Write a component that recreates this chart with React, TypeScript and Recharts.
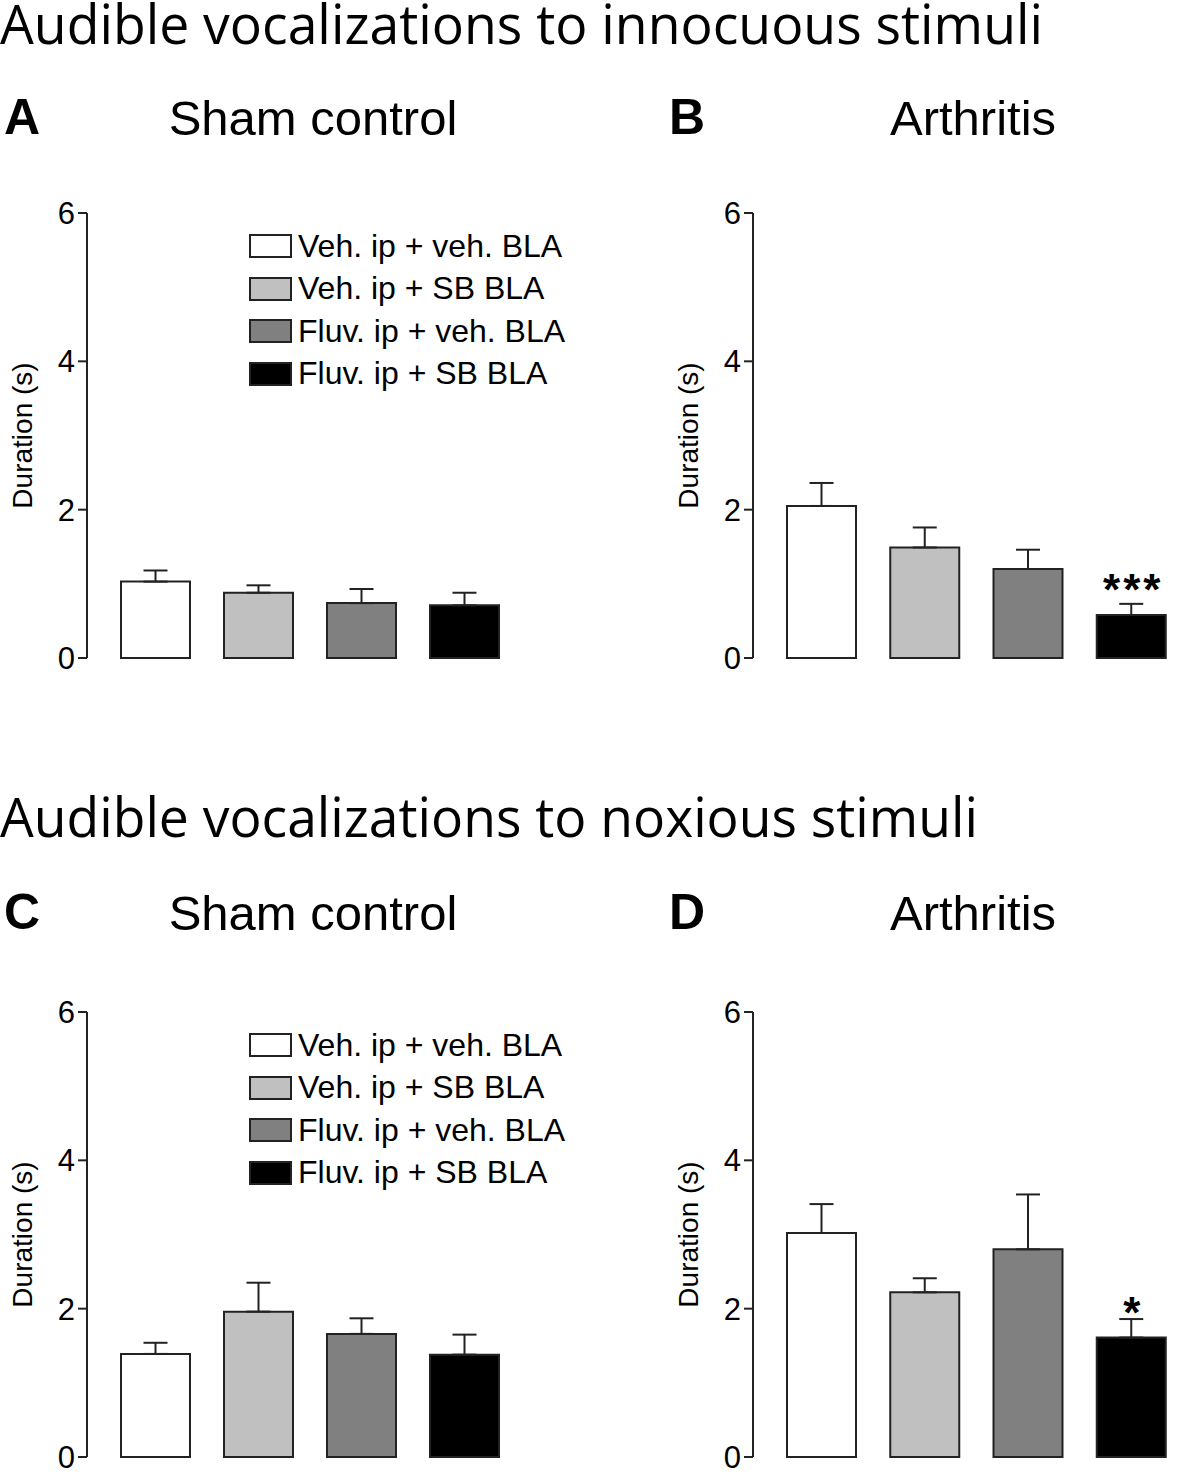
import React from 'react'
import { Bar, BarChart, Cell, ErrorBar, LabelList, Legend, XAxis, YAxis } from 'recharts'

// treatment groups, same order in every panel
const groups = ['Veh. ip + veh. BLA', 'Veh. ip + SB BLA', 'Fluv. ip + veh. BLA', 'Fluv. ip + SB BLA']
const groupColors = ['#ffffff', '#c0c0c0', '#808080', '#000000']
const yTicks = [0, 2, 4, 6]

// innocuous stimuli (mean duration, s, and SEM)
const innocuousShamMean = [1.03, 0.88, 0.74, 0.71]
const innocuousShamSem = [0.15, 0.10, 0.19, 0.17]
const innocuousArthritisMean = [2.05, 1.49, 1.20, 0.58]
const innocuousArthritisSem = [0.31, 0.27, 0.26, 0.15]
const innocuousArthritisSig = ['', '', '', '***']

// noxious stimuli
const noxiousShamMean = [1.39, 1.96, 1.66, 1.38]
const noxiousShamSem = [0.15, 0.39, 0.21, 0.27]
const noxiousArthritisMean = [3.02, 2.22, 2.80, 1.61]
const noxiousArthritisSem = [0.39, 0.19, 0.74, 0.25]
const noxiousArthritisSig = ['', '', '', '*']

const arial = '"Liberation Sans", Arial, Helvetica, sans-serif'

const renderLegend = () => (
    <div style={{ fontFamily: arial, fontSize: 32, color: '#000' }}>
        {groups.map((g, i) => (
            <div key={g} style={{ display: 'flex', alignItems: 'center', height: 42.5, whiteSpace: 'nowrap' }}>
                <span style={{
                    display: 'inline-block', width: 43, height: 24, boxSizing: 'border-box',
                    border: '2px solid #222', background: groupColors[i], marginRight: 6,
                }} />
                <span>{g}</span>
            </div>
        ))}
    </div>
)

const renderTick = (props: any) => {
    const { x, y, payload } = props
    return (
        <text x={x} y={y} dy="0.36em" textAnchor="end" fill="#000"
            style={{ fontFamily: arial, fontSize: 31 }}>
            {payload.value}
        </text>
    )
}

const renderSig = (props: any) => {
    const { x, y, width, value } = props
    if (!value) return null
    return (
        <text x={x + width / 2 + 2} y={y - 10} textAnchor="middle" fill="#000" letterSpacing={3}
            style={{ fontFamily: arial, fontSize: 44, fontWeight: 'bold' }}>{value}</text>
    )
}

const renderYLabel = (props: any) => {
    const vb = props.viewBox || {}
    const cy = (vb.y ?? 18) + (vb.height ?? 445) / 2
    return (
        <text x={32} y={cy} transform={`rotate(-90, 32, ${cy})`} textAnchor="middle" fill="#000"
            style={{ fontFamily: arial, fontSize: 28 }}>Duration (s)</text>
    )
}

type PanelProps = {
    left: number
    top: number
    width: number
    right: number
    mean: number[]
    sem: number[]
    sig?: string[]
    legend?: boolean
}

const Panel: React.FC<PanelProps> = ({ left, top, width, right, mean, sem, sig, legend }) => {
    const rows = groups.map((g, i) => ({
        name: g,
        mean: mean[i],
        err: [0, sem[i]],
        sig: sig ? sig[i] : '',
    }))
    return (
        <div style={{ position: 'absolute', left, top }}>
            <BarChart width={width} height={485} data={rows} barSize={69}
                margin={{ top: 18, right, left: 0, bottom: 22 }}>
                <XAxis dataKey="name" tick={false} tickLine={false} height={0}
                    axisLine={{ stroke: '#222', strokeWidth: 2 }} padding={{ left: 17, right: 16 }} />
                <YAxis width={87} domain={[0, 6]} ticks={yTicks} interval={0} tickSize={9} tickMargin={3}
                    axisLine={{ stroke: '#222', strokeWidth: 2 }} tickLine={{ stroke: '#222', strokeWidth: 2 }}
                    tick={renderTick} label={{ content: renderYLabel }} />
                {legend && (
                    <Legend layout="vertical" align="center" verticalAlign="middle" content={renderLegend}
                        wrapperStyle={{ left: 249, top: 30, width: 360 }} />
                )}
                <Bar dataKey="mean" stroke="#222" strokeWidth={2} isAnimationActive={false}>
                    {rows.map((r, i) => <Cell key={r.name} fill={groupColors[i]} />)}
                    <ErrorBar dataKey="err" width={12} stroke="#222" strokeWidth={2} direction="y" />
                    <LabelList dataKey="sig" content={renderSig} />
                </Bar>
            </BarChart>
        </div>
    )
}

const App: React.FC = () => {
    return (
        <div style={{ position: 'absolute', left: 0, top: 0, width: 1200, height: 1476, background: '#fff' }}>
            <svg width={1200} height={1476} style={{ position: 'absolute', left: 0, top: 0 }}>
                <text x={0} y={44} fontFamily='"Open Sans", "Noto Sans", sans-serif' fontSize={54}
                    textLength={1043} lengthAdjust="spacingAndGlyphs" fill="#000">Audible vocalizations to innocuous stimuli</text>
                <text x={0} y={837} fontFamily='"Open Sans", "Noto Sans", sans-serif' fontSize={54}
                    textLength={978} lengthAdjust="spacingAndGlyphs" fill="#000">Audible vocalizations to noxious stimuli</text>

                <text x={4} y={134} fontFamily={arial} fontSize={50} fontWeight="bold">A</text>
                <text x={669} y={134} fontFamily={arial} fontSize={50} fontWeight="bold">B</text>
                <text x={4} y={929} fontFamily={arial} fontSize={50} fontWeight="bold">C</text>
                <text x={669} y={929} fontFamily={arial} fontSize={50} fontWeight="bold">D</text>

                <text x={313} y={135} textAnchor="middle" fontFamily={arial} fontSize={49}>Sham control</text>
                <text x={973} y={135} textAnchor="middle" fontFamily={arial} fontSize={49}>Arthritis</text>
                <text x={313} y={930} textAnchor="middle" fontFamily={arial} fontSize={49}>Sham control</text>
                <text x={973} y={930} textAnchor="middle" fontFamily={arial} fontSize={49}>Arthritis</text>
            </svg>

            <Panel left={0} top={195} width={600} right={68} mean={innocuousShamMean} sem={innocuousShamSem} legend />
            <Panel left={666} top={195} width={534} right={1} mean={innocuousArthritisMean} sem={innocuousArthritisSem}
                sig={innocuousArthritisSig} />
            <Panel left={0} top={994} width={600} right={68} mean={noxiousShamMean} sem={noxiousShamSem} legend />
            <Panel left={666} top={994} width={534} right={1} mean={noxiousArthritisMean} sem={noxiousArthritisSem}
                sig={noxiousArthritisSig} />
        </div>
    )
}

export default App
